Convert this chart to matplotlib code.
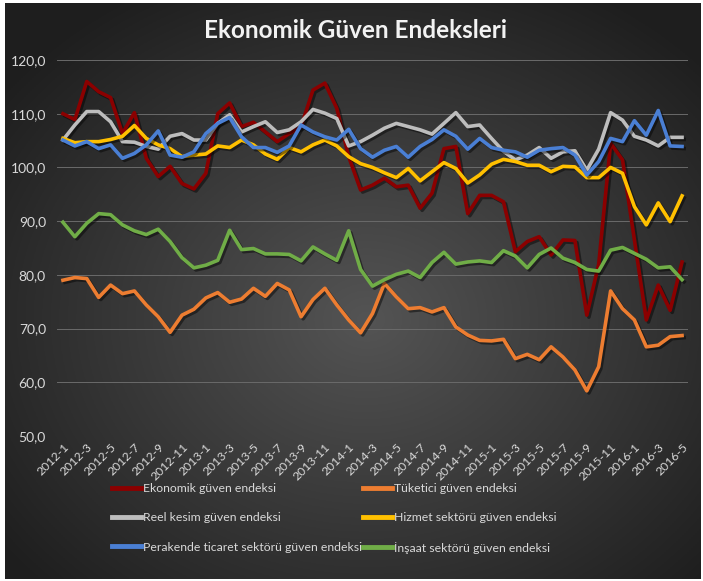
import matplotlib.pyplot as plt
import matplotlib.patheffects as pe
import numpy as np

# months 2012-1 .. 2016-5
months = ['%d-%d' % (y, m) for y in range(2012, 2017) for m in range(1, 13)][:53]

ekonomik = [110, 108.9, 116, 114.1, 113, 106.3, 110.2, 101.7, 98.3, 100.2, 97, 96, 98.9,
            110, 112, 107.6, 108.4, 106.6, 104.8, 106.3, 107.6, 114.4, 115.7, 111, 102,
            95.8, 96.7, 98, 96.4, 96.7, 92.4, 95.2, 103.5, 103.9, 91.4, 94.8, 94.8, 93.6,
            84.3, 86.2, 87.1, 83.7, 86.5, 86.4, 72.5, 82, 104.5, 101.4, 86.5, 71.6, 78.1,
            73.4, 82.4]
tuketici = [79, 79.5, 79.3, 75.8, 78.1, 76.5, 77, 74.4, 72.2, 69.3, 72.5, 73.6, 75.7,
            76.7, 74.9, 75.5, 77.5, 76, 78.4, 77.2, 72.2, 75.4, 77.5, 74.4, 71.6, 69.2,
            72.8, 78.4, 75.9, 73.7, 73.9, 73.1, 73.9, 70.3, 68.8, 67.8, 67.7, 68, 64.4,
            65.2, 64.2, 66.6, 64.7, 62.3, 58.4, 62.9, 77, 73.7, 71.6, 66.6, 66.9, 68.5, 68.7]
reel = [105.1, 107.9, 110.4, 110.4, 108.5, 104.8, 104.7, 103.9, 103.4, 105.8, 106.3,
        105.1, 105.1, 108.2, 109.8, 106.6, 107.6, 108.5, 106.5, 107, 108.5, 110.8, 110.1,
        109.1, 104, 104.8, 106, 107.3, 108.2, 107.6, 107, 106.2, 108.2, 110.2, 107.6,
        107.9, 105.4, 103, 101.4, 102.3, 103.7, 101.7, 102.9, 103.1, 99.5, 103.4, 110.2,
        108.8, 105.8, 105.1, 104, 105.6, 105.6]
hizmet = [105.4, 104.6, 104.8, 104.8, 105.2, 105.8, 107.8, 105.4, 104.2, 103.5, 102,
          102.3, 102.5, 104, 103.7, 105.1, 104.2, 102.5, 101.5, 103.7, 102.9, 104.2, 105.1,
          104, 102, 100.7, 100, 99, 98.1, 99.8, 97.5, 99.2, 100.9, 99.8, 97.1, 98.6, 100.6,
          101.5, 101.1, 100.4, 100.4, 99.2, 100.2, 100.1, 98.1, 98.1, 100, 98.9, 92.7, 89.3,
          93.4, 89.9, 94.7]
perakende = [105.1, 104, 104.8, 103.5, 104.2, 101.7, 102.6, 104.2, 106.8, 102.3, 101.9,
             102.9, 106.3, 108.2, 109.3, 105.7, 103.7, 103.7, 102.8, 104, 107.9, 106.6,
             105.7, 105.1, 107.1, 103.5, 101.9, 103.2, 103.9, 101.9, 103.9, 105.2, 107,
             105.8, 103.4, 105.4, 103.7, 103.2, 102.9, 101.9, 103.2, 103.5, 103.7, 102.3,
             98.6, 101.1, 105.4, 104.8, 108.7, 106, 110.6, 104, 103.9]
insaat = [89.8, 87.1, 89.6, 91.4, 91.2, 89.3, 88.2, 87.5, 88.5, 86.2, 83.2, 81.3, 81.8,
          82.7, 88.3, 84.7, 84.9, 83.9, 83.9, 83.8, 82.6, 85.2, 83.9, 82.7, 88.2, 81, 77.9,
          79.1, 80.1, 80.7, 79.5, 82.3, 84.2, 82, 82.4, 82.6, 82.3, 84.5, 83.5, 81.3, 83.8,
          85, 83.1, 82.3, 81, 80.7, 84.6, 85.1, 84, 82.9, 81.3, 81.5, 79.1]

series = [
    ('Ekonomik güven endeksi', ekonomik, '#8B0000'),
    ('Tüketici güven endeksi', tuketici, '#ED7D31'),
    ('Reel kesim güven endeksi', reel, '#BDBDBD'),
    ('Hizmet sektörü güven endeksi', hizmet, '#FFC000'),
    ('Perakende ticaret sektörü güven endeksi', perakende, '#4A7FD4'),
    ('İnşaat sektörü güven endeksi', insaat, '#70AD47'),
]

W, H = 703, 581
fig = plt.figure(figsize=(W / 100, H / 100), dpi=100, facecolor='white')

# dark radial gradient background
bg = fig.add_axes([5 / W, 2 / H, (W - 7) / W, (H - 5) / H])
yy, xx = np.mgrid[0:1:300j, 0:1:360j]
r = np.sqrt(((xx - 0.52) / 0.75) ** 2 + ((yy - 0.55) / 0.75) ** 2)
shade = np.clip(0.33 - 0.24 * r, 0.12, 0.34)
bg.imshow(np.dstack([shade] * 3), aspect='auto', extent=[0, 1, 0, 1])
bg.axis('off')

ax = fig.add_axes([57 / W, 1 - 436 / H, (688 - 57) / W, (436 - 60) / H])
ax.patch.set_alpha(0)
x = np.arange(len(months))
shadow = [pe.SimpleLineShadow(offset=(1.5, -1.5), shadow_color='black', alpha=0.45), pe.Normal()]
lines = {}
for name, vals, col in series:
    lines[name], = ax.plot(x, vals, color=col, lw=2.6, label=name, solid_joinstyle='round',
                           path_effects=shadow)

ax.set_ylim(50, 120)
ax.set_xlim(-0.5, len(months) - 0.5)
ax.set_yticks(np.arange(50, 121, 10))
ax.set_yticklabels(['%d,0' % v for v in range(50, 121, 10)])
ax.set_xticks(x[::2])
ax.set_xticklabels(months[::2], rotation=45, ha='right', rotation_mode='anchor')
ax.grid(axis='y', color='#6a6a6a', lw=0.7)
ax.set_axisbelow(True)
for s in ax.spines.values():
    s.set_visible(False)
ax.tick_params(length=0, colors='#d9d9d9', labelsize=10, pad=8)
for lab in ax.get_xticklabels() + ax.get_yticklabels():
    lab.set_fontfamily('Lato')
ax.tick_params(axis='x', labelsize=8.8, pad=4)

fig.text(0.506, 1 - 30 / H, 'Ekonomik Güven Endeksleri', ha='center', va='center',
         color='#f2f2f2', fontsize=17.5, fontweight='bold', family='Lato')

# legend filled row by row: reorder for column-major layout
order = [0, 2, 4, 1, 3, 5]
names = [series[i][0] for i in order]
leg = fig.legend([lines[n] for n in names], names, loc='upper left',
                 bbox_to_anchor=(101 / W, 1 - 472 / H), ncol=2,
                 frameon=False, handlelength=2.4, handletextpad=0.15, columnspacing=0.05,
                 labelspacing=1.5, prop={'family': 'Lato', 'size': 8.8})
for t in leg.get_texts():
    t.set_color('#d9d9d9')
for l in leg.get_lines():
    l.set_linewidth(3.5)
    l.set_path_effects([])

plt.savefig('out.png', dpi=100, facecolor='white')
